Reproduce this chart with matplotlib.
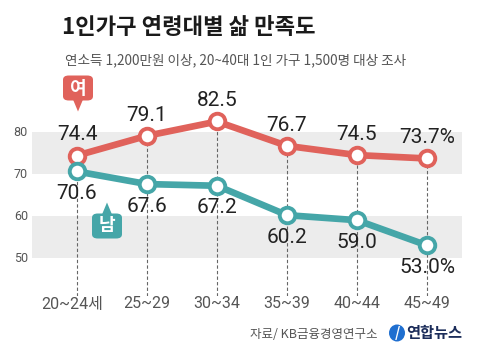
import matplotlib
matplotlib.use("Agg")
import matplotlib.pyplot as plt
from matplotlib.patches import FancyBboxPatch, Polygon, Circle, Ellipse
import matplotlib.font_manager as fm

ages = ["20~24세", "25~29", "30~34", "35~39", "40~44", "45~49"]
female = [74.4, 79.1, 82.5, 76.7, 74.5, 73.7]
male = [70.6, 67.6, 67.2, 60.2, 59.0, 53.0]
yticks = [50, 60, 70, 80]

names = {f.name for f in fm.fontManager.ttflist}
NARROW = ["Liberation Sans Narrow", "Noto Sans CJK KR", "DejaVu Sans"] if "Liberation Sans Narrow" in names else ["Roboto", "Noto Sans CJK KR", "DejaVu Sans"]
KR = ["Noto Sans CJK KR", "DejaVu Sans"]
plt.rcParams["font.family"] = KR

RED = "#e0625b"
TEAL = "#45a6a8"
W, H = 478, 351
fig = plt.figure(figsize=(W / 100, H / 100), dpi=100)
fig.patch.set_facecolor("white")

left_px, right_px, top_px, bot_px = 32, 462, 90, 296
ax = fig.add_axes([left_px / W, 1 - bot_px / H, (right_px - left_px) / W, (bot_px - top_px) / H])
ax.set_xlim(-0.643, 5.5)
ax.set_ylim(40.95, 90)
for s in ax.spines.values():
    s.set_visible(False)
ax.set_xticks([])
ax.set_yticks([])

for lo, hi in [(70, 80), (50, 60)]:
    ax.axhspan(lo, hi, color="#ececec", zorder=0, lw=0)

x = list(range(len(ages)))
for i, v in enumerate(female):
    ax.plot([i, i], [40.95, v], ls=(0, (3, 2)), color="#666666", lw=0.8, zorder=1)

ax.plot(x, female, color=RED, lw=4.8, zorder=3, solid_capstyle="round")
ax.plot(x, male, color=TEAL, lw=4.8, zorder=3, solid_capstyle="round")
ax.scatter(x, female, s=125, facecolor="white", edgecolor=RED, linewidth=2.8, zorder=4)
ax.scatter(x, male, s=125, facecolor="white", edgecolor=TEAL, linewidth=2.8, zorder=4)

for i, v in enumerate(female):
    t = f"{v:.1f}" + ("%" if i == len(female) - 1 else "")
    ax.annotate(t, (i, v), xytext=(0, 8), textcoords="offset points", ha="center", va="bottom",
                fontsize=15, family=NARROW, color="#222222", zorder=5)
for i, v in enumerate(male):
    t = f"{v:.1f}" + ("%" if i == len(male) - 1 else "")
    ax.annotate(t, (i, v), xytext=(0, -9), textcoords="offset points", ha="center", va="top",
                fontsize=15, family=NARROW, color="#222222", zorder=5)

for yv in yticks:
    fig.text(28 / W, 1 - (258 - (yv - 50) * 4.2) / H, str(yv), ha="right", va="center",
             fontsize=9, family=NARROW, color="#555555")

for i, lab in enumerate(ages):
    xp = 77 + 70 * i
    if i == 0:
        xp = 72
    fig.text(xp / W, 1 - 304 / H, lab, ha="center", va="center", fontsize=11.5,
             family=NARROW, color="#555555")

fig.text(62 / W, 1 - 27 / H, "1인가구 연령대별 삶 만족도", ha="left", va="center",
         fontsize=16, color="#1a1a1a", weight="bold")
fig.text(65 / W, 1 - 60 / H, "연소득 1,200만원 이상, 20~40대 1인 가구 1,500명 대상 조사",
         ha="left", va="center", fontsize=9.8, color="#555555")

def badge(cx, cy, w, h, color, label, tip_dir):
    box = FancyBboxPatch(((cx - w / 2) / W, 1 - (cy + h / 2) / H), w / W, h / H,
                         boxstyle="round,pad=0,rounding_size=0.012", transform=fig.transFigure,
                         facecolor=color, edgecolor="none", zorder=10)
    fig.patches.append(box)
    if tip_dir == "down":
        y0 = cy + h / 2
        pts = [((cx - 5) / W, 1 - (y0 - 1) / H), ((cx + 5) / W, 1 - (y0 - 1) / H), (cx / W, 1 - (y0 + 11) / H)]
    else:
        y0 = cy - h / 2
        pts = [((cx - 5) / W, 1 - (y0 + 1) / H), ((cx + 5) / W, 1 - (y0 + 1) / H), (cx / W, 1 - (y0 - 11) / H)]
    fig.patches.append(Polygon(pts, closed=True, transform=fig.transFigure, facecolor=color,
                               edgecolor="none", zorder=10))
    fig.text(cx / W, 1 - cy / H, label, ha="center", va="center", fontsize=13, color="white",
             weight="bold", zorder=11)

badge(78, 88, 30, 25, RED, "여", "down")
badge(107, 226, 30, 25, TEAL, "남", "up")

fig.text(378 / W, 1 - 334 / H, "자료/ KB금융경영연구소", ha="right", va="center", fontsize=9,
         color="#555555", style="italic")
fig.patches.append(Ellipse((397 / W, 1 - 333 / H), 16 / W, 17 / H, transform=fig.transFigure,
                           facecolor="#1f6fd0", edgecolor="none"))
fig.text(397 / W, 1 - 333 / H, "/", ha="center", va="center", fontsize=10, color="white",
         weight="bold", style="italic")
fig.text(406 / W, 1 - 333 / H, "연합뉴스", ha="left", va="center", fontsize=11,
         color="#1c2d5a", weight="bold")

fig.savefig("out.png", dpi=100, facecolor="white")
